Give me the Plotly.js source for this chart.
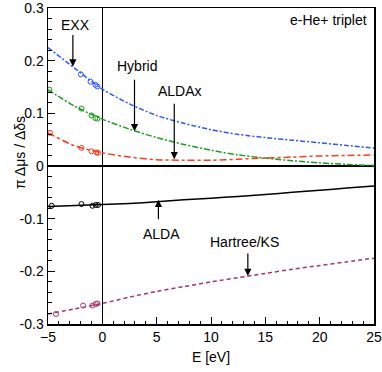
<!DOCTYPE html>
<html>
<head>
<meta charset="utf-8">
<script src="https://cdn.plot.ly/plotly-3.0.1.min.js"></script>
<style>
  html, body { margin: 0; padding: 0; background: #fff; }
  #chart { width: 382px; height: 372px; }
</style>
</head>
<body>
<div id="chart"></div>
<script>
// energy grid of the curves (eV)
const energy = [-5, -2.5, 0, 2.5, 5, 7.5, 10, 12.5, 15, 17.5, 20, 22.5, 25];
const exxCurve = [0.225, 0.185, 0.146, 0.118, 0.096, 0.081, 0.069, 0.060, 0.054, 0.049, 0.044, 0.039, 0.034];
const hybridCurve = [0.145, 0.113, 0.089, 0.070, 0.054, 0.041, 0.030, 0.021, 0.015, 0.010, 0.006, 0.003, 0.001];
const aldaxCurve = [0.063, 0.038, 0.025, 0.017, 0.012, 0.011, 0.011, 0.013, 0.015, 0.017, 0.019, 0.020, 0.021];
const aldaCurve = [-0.077, -0.075, -0.073, -0.071, -0.068, -0.064, -0.061, -0.058, -0.054, -0.050, -0.046, -0.042, -0.038];
const hartreeCurve = [-0.281, -0.271, -0.261, -0.249, -0.238, -0.229, -0.220, -0.212, -0.204, -0.196, -0.189, -0.182, -0.175];

// bound-state points (open circles)
const exxPtsX = [-1.98, -1.09, -0.64, -0.45];
const exxPtsY = [0.174, 0.160, 0.154, 0.151];
const hybridPtsX = [-4.88, -1.92, -1.0, -0.64, -0.45];
const hybridPtsY = [0.145, 0.109, 0.096, 0.091, 0.090];
const aldaxPtsX = [-4.82, -1.92, -1.0, -0.55, -0.4];
const aldaxPtsY = [0.063, 0.0345, 0.028, 0.026, 0.025];
const aldaPtsX = [-4.66, -1.92, -0.91, -0.61, -0.4];
const aldaPtsY = [-0.0755, -0.0723, -0.0755, -0.074, -0.074];
const hartreePtsX = [-4.27, -1.77, -0.91, -0.61, -0.45];
const hartreePtsY = [-0.281, -0.265, -0.265, -0.262, -0.261];

// tick labels
const xTicks = [-5, 0, 5, 10, 15, 20, 25];
const yTicks = [-0.3, -0.2, -0.1, 0, 0.1, 0.2, 0.3];
const yTickText = ['-0.3', '-0.2', '-0.1', '0', '0.1', '0.2', '0.3'];

const colors = {
    exx: '#2f57ff',
    hybrid: '#1f9a1f',
    aldax: '#ff3b1a',
    alda: '#000000',
    hartree: '#a8336e'
};

function curve(y, color, dash) {
    return {
        x: energy, y: y, type: 'scatter', mode: 'lines',
        line: { color: color, width: 1.5, dash: dash, shape: 'spline', smoothing: 0.8 },
        hoverinfo: 'skip'
    };
}

function points(x, y, color) {
    return {
        x: x, y: y, type: 'scatter', mode: 'markers',
        marker: { symbol: 'circle-open', size: 5, color: color, line: { width: 1, color: color } },
        hoverinfo: 'skip'
    };
}

const data = [
    curve(exxCurve, colors.exx, '5px,2px,2px,2px'),
    curve(hybridCurve, colors.hybrid, '6px,2px,2px,2px'),
    curve(aldaxCurve, colors.aldax, '7px,3px,3px,3px'),
    curve(aldaCurve, colors.alda, 'solid'),
    curve(hartreeCurve, colors.hartree, '4px,3px'),
    points(exxPtsX, exxPtsY, colors.exx),
    points(hybridPtsX, hybridPtsY, colors.hybrid),
    points(aldaxPtsX, aldaxPtsY, colors.aldax),
    points(aldaPtsX, aldaPtsY, colors.alda),
    points(hartreePtsX, hartreePtsY, colors.hartree)
];

const font = { family: 'Liberation Sans, Arial, sans-serif', size: 14, color: '#000' };

// labels without arrows, arrows without labels
function label(text, x, y) {
    return { text: text, x: x, y: y, xref: 'x', yref: 'y', showarrow: false, font: font };
}
function arrow(x, y, ay) {
    return {
        text: '', x: x, y: y, xref: 'x', yref: 'y', showarrow: true,
        ax: 0, ay: ay, arrowhead: 2, arrowsize: 1.2, arrowwidth: 1.2, arrowcolor: '#000'
    };
}

const annotations = [
    label('EXX', -2.47, 0.267),
    arrow(-2.71, 0.189, -33),
    label('Hybrid', 3.23, 0.189),
    arrow(2.96, 0.066, -53),
    label('ALDAx', 7.12, 0.1415),
    arrow(6.62, 0.013, -57),
    label('ALDA', 5.40, -0.129),
    arrow(5.16, -0.064, 21),
    label('Hartree/KS', 13.08, -0.1434),
    arrow(13.39, -0.209, -24),
    label('e-He+ triplet', 20.79, 0.2768),
    {
        text: 'π Δμs / Δδs', xref: 'paper', yref: 'paper', x: -0.116, y: 0.542,
        textangle: -90, showarrow: false, font: font
    }
];

const axisCommon = {
    showline: true, mirror: true, linecolor: '#000', linewidth: 1.5,
    ticks: 'inside', ticklen: 7, tickwidth: 1, tickcolor: '#000',
    showgrid: false, zeroline: true, zerolinecolor: '#000', zerolinewidth: 1.5,
    tickfont: font, ticklabeloverflow: 'allow'
};

const layout = {
    width: 382, height: 372,
    margin: { l: 48, r: 8, t: 8, b: 48 },
    paper_bgcolor: '#fff', plot_bgcolor: '#fff',
    showlegend: false,
    font: font,
    xaxis: Object.assign({}, axisCommon, {
        range: [-5, 25], tickmode: 'array', tickvals: xTicks,
        minor: { dtick: 1, tick0: 0, ticks: 'inside', ticklen: 3.5, tickcolor: '#000', showgrid: false },
        title: { text: 'E [eV]', font: font, standoff: 8 }
    }),
    yaxis: Object.assign({}, axisCommon, {
        range: [-0.3, 0.3], tickmode: 'array', tickvals: yTicks, ticktext: yTickText,
        minor: { dtick: 0.02, tick0: 0, ticks: 'inside', ticklen: 3.5, tickcolor: '#000', showgrid: false }
    }),
    annotations: annotations
};

Plotly.newPlot('chart', data, layout, { displayModeBar: false, staticPlot: true });
</script>
</body>
</html>
